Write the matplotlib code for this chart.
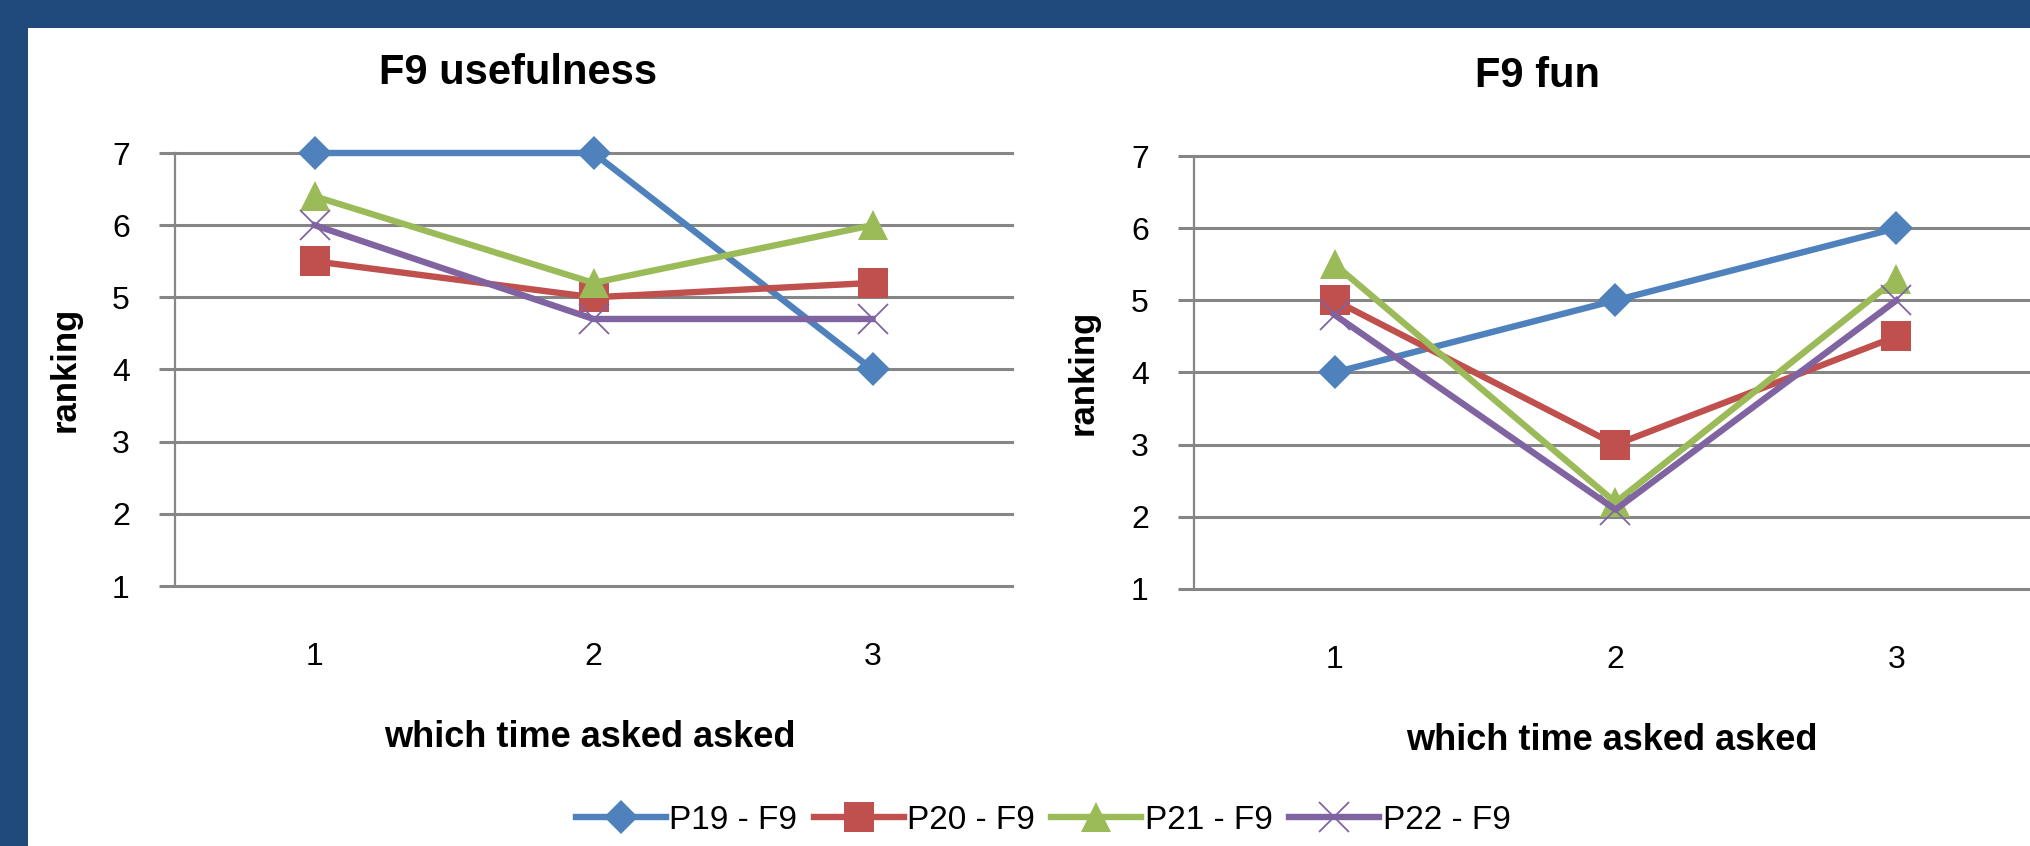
import matplotlib
matplotlib.use("Agg")
import matplotlib.pyplot as plt
from matplotlib.patches import Rectangle

plt.rcParams['font.family'] = ['Liberation Sans', 'DejaVu Sans']

# x categories: which time the question was asked
times = [1, 2, 3]
series_names = ["P19 - F9", "P20 - F9", "P21 - F9", "P22 - F9"]

# F9 usefulness rankings
usefulness_p19 = [7, 7, 4]
usefulness_p20 = [5.5, 5.0, 5.2]
usefulness_p21 = [6.4, 5.2, 6.0]
usefulness_p22 = [6.0, 4.7, 4.7]

# F9 fun rankings
fun_p19 = [4, 5, 6]
fun_p20 = [5.0, 3.0, 4.5]
fun_p21 = [5.5, 2.2, 5.3]
fun_p22 = [4.8, 2.1, 5.0]

y_ticks = [1, 2, 3, 4, 5, 6, 7]

colors = ['#4F81BD', '#C0504D', '#9BBB59', '#8064A2']
markers = ['D', 's', '^', 'x']
marker_sizes = [17, 21, 22, 22]
grid_gray = '#868686'
border = '#1F4A7B'

W, H = 2030, 846
fig = plt.figure(figsize=(W / 100, H / 100), dpi=100)
fig.patch.set_facecolor('white')
# dark frame on top and left
fig.patches.append(Rectangle((0, 1 - 28 / H), 1, 28 / H, transform=fig.transFigure,
                             facecolor=border, edgecolor='none', zorder=0))
fig.patches.append(Rectangle((0, 0), 28 / W, 1, transform=fig.transFigure,
                             facecolor=border, edgecolor='none', zorder=0))

ax1 = fig.add_axes([175 / W, 1 - 586 / H, 837 / W, 433 / H])
ax2 = fig.add_axes([1194 / W, 1 - 589 / H, 843 / W, 433 / H])

panels = [
    (ax1, "F9 usefulness", [usefulness_p19, usefulness_p20, usefulness_p21, usefulness_p22], 0.41),
    (ax2, "F9 fun", [fun_p19, fun_p20, fun_p21, fun_p22], 0.407),
]

for ax, title, data, title_x in panels:
    ax.set_xlim(0.5, 3.5)
    ax.set_ylim(1, 7)
    ax.set_xticks(times)
    ax.set_yticks(y_ticks)
    ax.tick_params(axis='y', length=11.5, width=2.2, color=grid_gray, pad=21, labelsize=23)
    ax.tick_params(axis='x', length=0, pad=40, labelsize=23)
    ax.yaxis.grid(True, color=grid_gray, linewidth=2.2)
    for gl in ax.yaxis.get_gridlines():
        gl.set_clip_on(False)
    ax.set_axisbelow(True)
    for side in ['top', 'right', 'bottom']:
        ax.spines[side].set_visible(False)
    ax.spines['left'].set_color(grid_gray)
    ax.spines['left'].set_linewidth(1.6)

    for i, vals in enumerate(data):
        mew = 1.3 if markers[i] == 'x' else 0
        ax.plot(times, vals, color=colors[i], linewidth=4.6, marker=markers[i],
                markersize=marker_sizes[i], markerfacecolor=colors[i],
                markeredgecolor=colors[i], markeredgewidth=mew,
                label=series_names[i], clip_on=False, zorder=3 + i)

    ax.text(title_x, 1.185, title, transform=ax.transAxes, ha='center', va='center',
            fontsize=30, fontweight='bold')
    ax.set_xlabel("which time asked asked", fontsize=26, fontweight='bold', va='center')
    ax.xaxis.set_label_coords(0.496, -0.351)
    ax.set_ylabel("ranking", fontsize=25, fontweight='bold', va='center')
    ax.yaxis.set_label_coords(-0.131, 0.5)

handles, labels = ax1.get_legend_handles_labels()
fig.legend(handles, labels, loc='center', bbox_to_anchor=(1043 / W, 1 - 820 / H),
           ncol=4, frameon=False, fontsize=24, handlelength=2.7,
           handletextpad=0.1, columnspacing=0.5, borderaxespad=0)

fig.savefig("out.png", dpi=100, facecolor='white')
